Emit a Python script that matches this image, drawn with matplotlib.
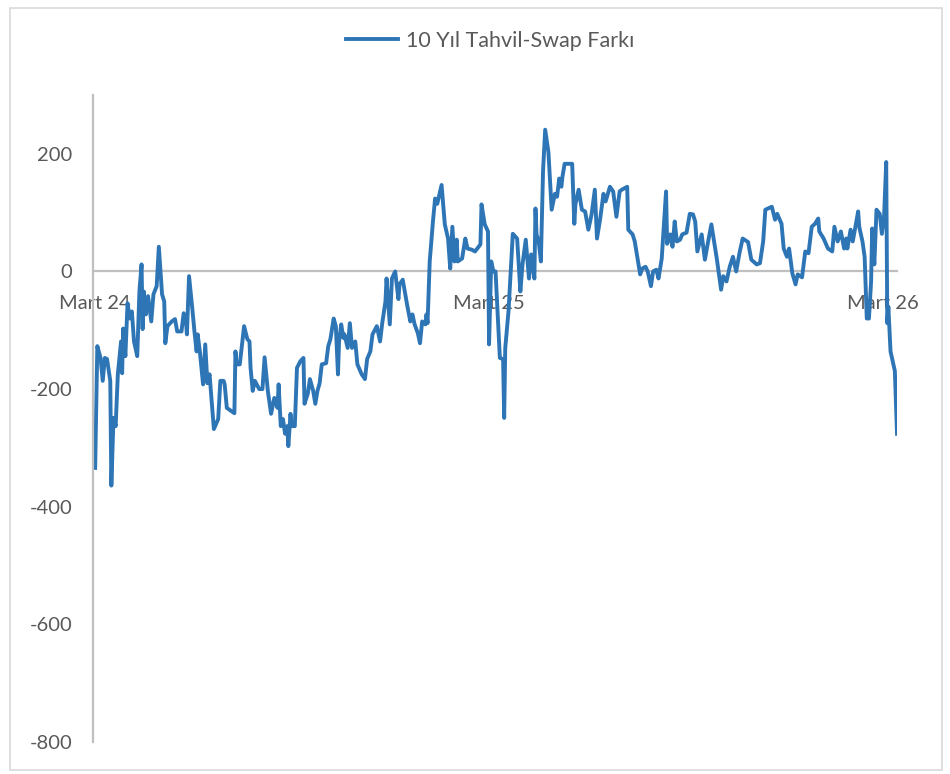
import matplotlib
matplotlib.use("Agg")
import matplotlib.pyplot as plt
from matplotlib.patches import Rectangle
import pandas as pd

plt.rcParams['font.family'] = ['Lato', 'DejaVu Sans']
plt.rcParams['axes.unicode_minus'] = False

# days since 1 March 2024 and the spread (bp) on those days
gun = [0, 2, 5, 7, 9, 11, 14, 15, 17, 19, 21, 24, 25, 26, 28, 30, 32, 34, 36, 39,
       41, 43, 44, 45, 47, 49, 52, 54, 57, 59, 62, 64, 65, 67, 71, 74, 76, 80, 82, 84,
       85, 87, 90, 92, 94, 95, 97, 100, 102, 104, 106, 110, 114, 116, 119, 120, 122, 129, 130, 131,
       134, 138, 141, 143, 144, 146, 148, 152, 155, 157, 160, 163, 166, 169, 170, 172, 174, 176, 178, 179,
       181, 182, 185, 187, 190, 193, 194, 197, 199, 202, 204, 206, 208, 210, 214, 216, 218, 221, 223, 225,
       226, 228, 230, 231, 234, 236, 238, 241, 243, 247, 250, 252, 255, 257, 261, 264, 266, 269, 270, 273,
       275, 278, 281, 282, 285, 289, 292, 294, 296, 299, 301, 303, 306, 307, 308, 310, 313, 315, 317, 319,
       321, 324, 327, 329, 331, 333, 335, 336, 340, 343, 345, 349, 352, 357, 358, 361, 364, 365, 367, 369,
       371, 375, 378, 379, 380, 383, 387, 391, 394, 396, 399, 402, 404, 407, 408, 409, 411, 413, 415, 417,
       420, 423, 426, 428, 430, 432, 433, 435, 442, 444, 445, 448, 451, 454, 457, 460, 463, 465, 468, 471,
       473, 477, 480, 483, 486, 488, 493, 494, 498, 500, 502, 505, 507, 510, 512, 515, 517, 520, 522, 525,
       529, 530, 533, 535, 537, 539, 542, 544, 548, 551, 554, 556, 558, 562, 565, 568, 571, 576, 580, 582,
       585, 588, 591, 594, 597, 600, 605, 608, 613, 616, 619, 621, 627, 630, 632, 636, 638, 641, 643, 646,
       649, 651, 655, 658, 661, 664, 667, 670, 671, 675, 679, 683, 685, 688, 691, 694, 696, 697, 700, 702,
       707, 708, 711, 713, 715, 717, 719, 720, 722, 724, 727, 729, 731, 733, 734, 735, 737, 741, 743]

fark = [-334, -127, -147, -186, -147, -149, -186, -364, -249, -263, -175, -119, -173, -97, -144, -54, -80, -68, -119, -144,
        -34, 12, -98, -34, -73, -42, -85, -39, -25, 42, -39, -51, -122, -93, -85, -81, -102, -102, -71, -80,
        -107, -8, -63, -102, -136, -107, -136, -192, -124, -190, -175, -268, -251, -186, -186, -192, -232, -241, -136, -158,
        -158, -93, -115, -119, -164, -203, -186, -200, -200, -146, -203, -242, -215, -232, -192, -263, -251, -276, -263, -297,
        -242, -263, -263, -164, -153, -147, -225, -208, -183, -203, -225, -203, -190, -158, -156, -127, -115, -80, -93, -175,
        -119, -90, -113, -107, -130, -88, -130, -119, -158, -175, -183, -149, -136, -107, -93, -119, -88, -51, -12, -90,
        -12, 0, -47, -22, -14, -56, -85, -73, -90, -105, -122, -85, -90, -73, -88, 17, 85, 124, 115, 131,
        147, 80, 56, 5, 76, 17, 54, 17, 22, 56, 39, 37, 34, 46, 114, 80, 68, -124, 17, 0,
        0, -147, -149, -249, -130, -68, 64, 56, -34, 12, 54, -12, 29, -12, 107, 63, 51, 17, 170, 241,
        203, 105, 132, 127, 158, 144, 161, 183, 183, 81, 114, 139, 105, 102, 71, 97, 139, 56, 90, 132,
        119, 144, 136, 93, 136, 139, 144, 71, 63, 51, 29, -5, 5, 8, 0, -25, 0, 3, -12, 22,
        136, 47, 63, 42, 85, 51, 54, 63, 66, 98, 97, 85, 34, 63, 20, 51, 80, 22, -31, -8,
        -17, 8, 25, 0, 31, 56, 50, 20, 12, 14, 51, 105, 110, 88, 98, 81, 39, 25, 39, -3,
        -22, -5, -10, 34, 31, 76, 81, 90, 68, 56, 39, 34, 76, 51, 68, 39, 56, 39, 71, 51,
        102, 76, 51, 25, -80, -80, -17, 73, 12, 105, 98, 64, 93, 186, -88, -60, -136, -169, -276]

baslangic = pd.Timestamp('2024-03-01')
tarih = baslangic + pd.to_timedelta(gun, unit='D')

etiket_tarih = [pd.Timestamp('2024-03-01'), pd.Timestamp('2025-03-01'), pd.Timestamp('2026-03-01')]
etiketler = ['Mart 24', 'Mart 25', 'Mart 26']
y_ticks = [-800, -600, -400, -200, 0, 200]

gri_yazi = '#595959'
gri_cizgi = '#bfbfbf'
mavi = '#2e75b6'

fig = plt.figure(figsize=(9.5, 7.74), dpi=100)
fig.patches.append(Rectangle((10 / 950, 4 / 774), 932 / 950, 762 / 774,
                             transform=fig.transFigure, fill=False,
                             edgecolor='#d9d9d9', linewidth=1.2))

ax = fig.add_axes([93 / 950, 1 - 742 / 774, (897 - 93) / 950, (742 - 95) / 774])
ax.plot(tarih, fark, color=mavi, linewidth=2.8, label='10 Yıl Tahvil-Swap Farkı',
        solid_joinstyle='round')

ax.set_xlim(baslangic - pd.Timedelta(days=2), baslangic + pd.Timedelta(days=743))
ax.set_ylim(-800, 300)

for s in ['top', 'right']:
    ax.spines[s].set_visible(False)
ax.spines['bottom'].set_position(('data', 0))
ax.spines['bottom'].set_color(gri_cizgi)
ax.spines['bottom'].set_linewidth(1.6)
ax.spines['left'].set_color(gri_cizgi)
ax.spines['left'].set_linewidth(1.6)
ax.spines['bottom'].set_zorder(1)

ax.set_yticks(y_ticks)
ax.set_xticks(etiket_tarih)
ax.set_xticklabels(etiketler)
ax.tick_params(axis='y', length=0, pad=15, labelsize=14.5, labelcolor=gri_yazi)
ax.tick_params(axis='x', length=0, pad=17, labelsize=14.5, labelcolor=gri_yazi)

leg = ax.legend(loc='center', bbox_to_anchor=(490 / 950, 1 - 41 / 774), bbox_transform=fig.transFigure,
                frameon=False, fontsize=15.5, handlelength=2.45, handletextpad=0.35)
for t in leg.get_texts():
    t.set_color(gri_yazi)

fig.savefig('out.png', dpi=100)
